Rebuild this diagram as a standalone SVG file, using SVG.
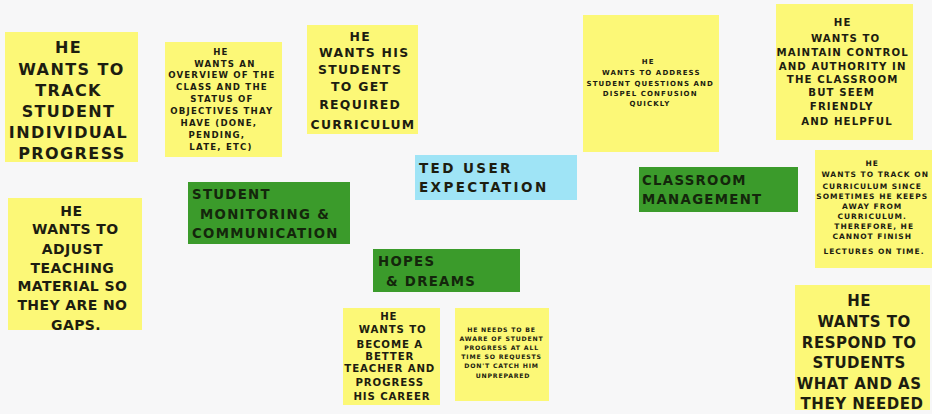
<svg xmlns="http://www.w3.org/2000/svg" width="932" height="414" viewBox="0 0 932 414">
  <style>
    .note { fill: #fcf877; }
    .green { fill: #3b9b2b; }
    .blue { fill: #9fe4f6; }
    text { font-family: "DejaVu Sans", "Liberation Sans", sans-serif; font-weight: bold; fill: #1d1d10; }
    .c { text-anchor: middle; }
    .hdr { fill: #14260c; font-size: 13.3px; letter-spacing: 1.3px; }
  </style>
  <rect width="932" height="414" fill="#f7f7f8"/>

  <g id="note-track-progress">
    <rect class="note" x="5" y="32" width="133" height="130"/>
    <text class="c" font-size="16" letter-spacing="1.4">
      <tspan x="72" y="53">HE</tspan>
      <tspan x="75" y="75">WANTS TO</tspan>
      <tspan x="72" y="96">TRACK</tspan>
      <tspan x="72" y="117">STUDENT</tspan>
      <tspan x="72" y="138">INDIVIDUAL</tspan>
      <tspan x="72" y="159">PROGRESS</tspan>
    </text>
  </g>

  <g id="note-overview">
    <rect class="note" x="165" y="42" width="117" height="115"/>
    <text class="c" font-size="8.6" letter-spacing="1.2">
      <tspan x="223" y="55">HE</tspan>
      <tspan x="227" y="67">WANTS AN</tspan>
      <tspan x="224" y="78">OVERVIEW OF THE</tspan>
      <tspan x="224" y="90">CLASS AND THE</tspan>
      <tspan x="224" y="102">STATUS OF</tspan>
      <tspan x="224" y="114">OBJECTIVES THAY</tspan>
      <tspan x="221" y="126">HAVE (DONE,</tspan>
      <tspan x="219" y="138">PENDING,</tspan>
      <tspan x="221" y="150">LATE, ETC)</tspan>
    </text>
  </g>

  <g id="note-curriculum">
    <rect class="note" x="307" y="25" width="111" height="109"/>
    <text class="c" font-size="12.4" letter-spacing="1.3">
      <tspan x="363" y="41">HE</tspan>
      <tspan x="367" y="57">WANTS HIS</tspan>
      <tspan x="363" y="74">STUDENTS</tspan>
      <tspan x="363" y="91">TO GET</tspan>
      <tspan x="363" y="109">REQUIRED</tspan>
      <tspan x="363" y="129">CURRICULUM</tspan>
    </text>
  </g>

  <g id="note-questions">
    <rect class="note" x="583" y="15" width="136" height="137"/>
    <text class="c" font-size="7" letter-spacing="1.1">
      <tspan x="650" y="64">HE</tspan>
      <tspan x="653" y="75">WANTS TO ADDRESS</tspan>
      <tspan x="652" y="86">STUDENT QUESTIONS AND</tspan>
      <tspan x="652" y="96">DISPEL CONFUSION</tspan>
      <tspan x="650" y="106">QUICKLY</tspan>
    </text>
  </g>

  <g id="note-authority">
    <rect class="note" x="776" y="4" width="137" height="136"/>
    <text class="c" font-size="10.2" letter-spacing="1.1">
      <tspan x="845" y="26">HE</tspan>
      <tspan x="848" y="42">WANTS TO</tspan>
      <tspan x="845" y="56">MAINTAIN CONTROL</tspan>
      <tspan x="845" y="70">AND AUTHORITY IN</tspan>
      <tspan x="845" y="83">THE CLASSROOM</tspan>
      <tspan x="844" y="96">BUT SEEM</tspan>
      <tspan x="844" y="110">FRIENDLY</tspan>
      <tspan x="847" y="125">AND HELPFUL</tspan>
    </text>
  </g>

  <g id="note-track-curriculum">
    <rect class="note" x="815" y="150" width="117" height="118"/>
    <text class="c" font-size="7.5" letter-spacing="1">
      <tspan x="874" y="166">HE</tspan>
      <tspan x="877" y="177">WANTS TO TRACK ON</tspan>
      <tspan x="874" y="189">CURRICULUM SINCE</tspan>
      <tspan x="874" y="199">SOMETIMES HE KEEPS</tspan>
      <tspan x="874" y="209">AWAY FROM</tspan>
      <tspan x="874" y="219">CURRICULUM.</tspan>
      <tspan x="876" y="229">THEREFORE, HE</tspan>
      <tspan x="874" y="239">CANNOT FINISH</tspan>
      <tspan x="874" y="254">LECTURES ON TIME.</tspan>
    </text>
  </g>

  <g id="note-adjust-material">
    <rect class="note" x="8" y="198" width="134" height="132"/>
    <text class="c" font-size="14" letter-spacing="0.4">
      <tspan x="74" y="216">HE</tspan>
      <tspan x="78" y="234">WANTS TO</tspan>
      <tspan x="75" y="254">ADJUST</tspan>
      <tspan x="75" y="273">TEACHING</tspan>
      <tspan x="75" y="291">MATERIAL SO</tspan>
      <tspan x="75" y="310">THEY ARE NO</tspan>
      <tspan x="76" y="330">GAPS.</tspan>
    </text>
  </g>

  <g id="note-better-teacher">
    <rect class="note" x="343" y="308" width="97" height="97"/>
    <text class="c" font-size="10.2" letter-spacing="0.9">
      <tspan x="391" y="320">HE</tspan>
      <tspan x="395" y="333">WANTS TO</tspan>
      <tspan x="392" y="348">BECOME A</tspan>
      <tspan x="392" y="360">BETTER</tspan>
      <tspan x="392" y="372">TEACHER AND</tspan>
      <tspan x="392" y="386">PROGRESS</tspan>
      <tspan x="392" y="400">HIS CAREER</tspan>
    </text>
  </g>

  <g id="note-aware">
    <rect class="note" x="455" y="308" width="94" height="93"/>
    <text class="c" font-size="6.2" letter-spacing="0.8">
      <tspan x="503" y="332">HE NEEDS TO BE</tspan>
      <tspan x="503" y="341">AWARE OF STUDENT</tspan>
      <tspan x="503" y="350">PROGRESS AT ALL</tspan>
      <tspan x="503" y="359">TIME SO REQUESTS</tspan>
      <tspan x="503" y="368">DON'T CATCH HIM</tspan>
      <tspan x="503" y="378">UNPREPARED</tspan>
    </text>
  </g>

  <g id="note-respond">
    <rect class="note" x="795" y="285" width="135" height="125"/>
    <text class="c" font-size="15" letter-spacing="0.5">
      <tspan x="862" y="306">HE</tspan>
      <tspan x="867" y="327">WANTS TO</tspan>
      <tspan x="862" y="348">RESPOND TO</tspan>
      <tspan x="862" y="368">STUDENTS</tspan>
      <tspan x="862" y="389">WHAT AND AS</tspan>
      <tspan x="862" y="409">THEY NEEDED</tspan>
    </text>
  </g>

  <g id="topic-monitoring">
    <rect class="green" x="188" y="182" width="162" height="62"/>
    <text class="hdr">
      <tspan x="192" y="199">STUDENT</tspan>
      <tspan x="200" y="219">MONITORING &amp;</tspan>
      <tspan x="192" y="238">COMMUNICATION</tspan>
    </text>
  </g>

  <g id="topic-hopes">
    <rect class="green" x="373" y="249" width="147" height="43"/>
    <text class="hdr">
      <tspan x="378" y="266">HOPES</tspan>
      <tspan x="386" y="286">&amp; DREAMS</tspan>
    </text>
  </g>

  <g id="topic-classroom">
    <rect class="green" x="639" y="167" width="159" height="45"/>
    <text class="hdr">
      <tspan x="642" y="185">CLASSROOM</tspan>
      <tspan x="642" y="204">MANAGEMENT</tspan>
    </text>
  </g>

  <g id="title-expectation">
    <rect class="blue" x="415" y="155" width="162" height="45"/>
    <text font-size="13.5" letter-spacing="2.4" fill="#1d2a36">
      <tspan x="419" y="173">TED USER</tspan>
      <tspan x="419" y="192">EXPECTATION</tspan>
    </text>
  </g>

  <g id="connectors"/>
</svg>
